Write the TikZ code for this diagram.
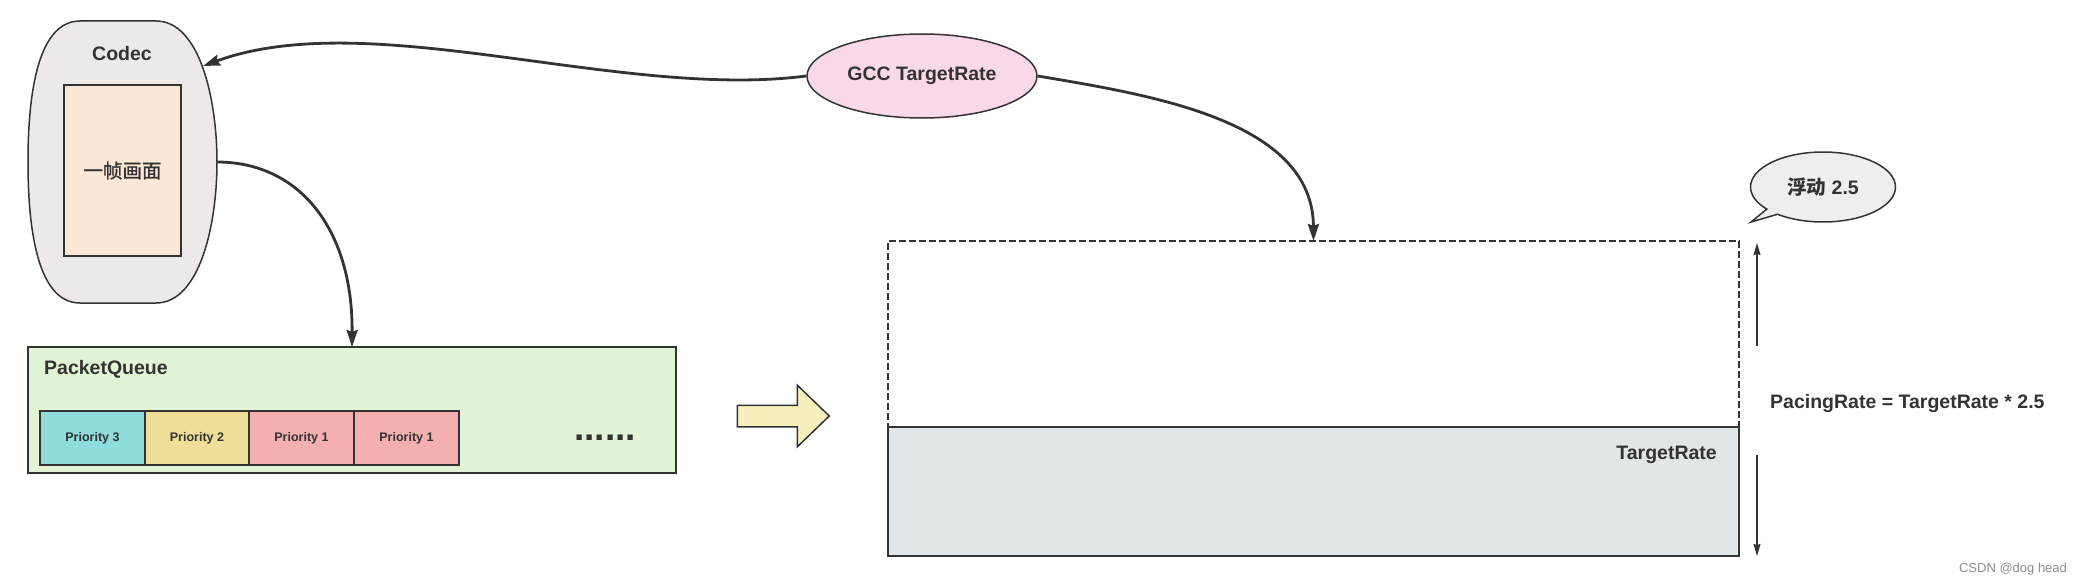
\documentclass[tikz,border=0pt]{standalone}
\usepackage{fontspec}
\setmainfont{Liberation Sans}
\newfontfamily\cjk{Noto Sans CJK SC}
\newfontfamily\cjkmid{Noto Sans CJK SC}[FakeBold=1.2]
\usetikzlibrary{positioning,shapes.geometric,shapes.arrows,shapes.callouts,arrows.meta}

\definecolor{ink}{HTML}{333333}
\definecolor{codecfill}{HTML}{EDE9E8}
\definecolor{framefill}{HTML}{FCE8D6}
\definecolor{queuefill}{HTML}{E1F4D5}
\definecolor{prio3}{HTML}{8EDCDC}
\definecolor{prio2}{HTML}{EFDE98}
\definecolor{prio1}{HTML}{F4B0B0}
\definecolor{gccfill}{HTML}{F9D8EA}
\definecolor{shiftfill}{HTML}{F7EFBD}
\definecolor{targetfill}{HTML}{E1E6E9}
\definecolor{bubblefill}{HTML}{EEEEEE}

\begin{document}
\begin{tikzpicture}[x=1pt, y=-1pt,
    box/.style={draw=ink, line width=1.5pt, inner sep=0pt, outer sep=0pt},
    lbl/.style={font=\fontsize{19.5}{23}\selectfont\bfseries, text=ink, inner sep=0pt},
    cell/.style={box, minimum width=105pt, minimum height=54pt, font=\fontsize{12.5}{15}\selectfont\bfseries, text=ink},
    flow/.style={draw=ink, line width=2.8pt, -{Stealth[length=17pt,width=11pt,inset=2pt]}},
    measure/.style={draw=ink, line width=1.2pt, -{Stealth[length=12pt,width=7pt,inset=1pt]}}]

    \useasboundingbox (0,0) rectangle (2081,586);

    % Codec with one frame inside
    \draw[ink, line width=1.5pt, fill=codecfill] (80,21) -- (156,21)
        .. controls (200,21) and (217,100) .. (217,162)
        .. controls (217,224) and (200,303) .. (156,303) -- (80,303)
        .. controls (36,303) and (28,224) .. (28,162)
        .. controls (28,100) and (36,21) .. (80,21) -- cycle;
    \node[lbl, anchor=base] (codec) at (122,61) {Codec};
    \node[box, fill=framefill, minimum width=117pt, minimum height=171pt, lbl] (frame) at (122.5,170.5) {\cjkmid\mdseries 一帧画面};
    \coordinate (codec in) at (203,66);
    \coordinate (codec out) at (217,162);

    % Packet queue
    \node[box, fill=queuefill, minimum width=648pt, minimum height=126pt] (queue) at (352,410) {};
    \node[lbl, anchor=base west] (queue title) at (44,374) {PacketQueue};
    \node[cell, fill=prio3] (p3) at (92.5,438) {Priority 3};
    \node[cell, fill=prio2, right=0pt of p3, minimum width=104pt] (p2) {Priority 2};
    \node[cell, fill=prio1, right=0pt of p2] (p1a) {Priority 1};
    \node[cell, fill=prio1, right=0pt of p1a] (p1b) {Priority 1};
    \node[lbl, font=\fontsize{37}{40}\selectfont\bfseries, anchor=base] (dots) at (605,440) {......};

    % GCC estimate
    \node[draw=ink, line width=1.5pt, fill=gccfill, ellipse, minimum width=230pt, minimum height=84pt, lbl] (gcc) at (922,76) {GCC TargetRate};

    % block arrow
    \node[single arrow, draw=ink, line width=1.5pt, fill=shiftfill, inner sep=10pt, single arrow head extend=20pt,
          single arrow tip angle=88, single arrow head indent=0pt, minimum height=92pt, minimum width=0pt,
          anchor=tail] (shift) at (736.5,416) {};

    % pacing rate and target rate
    \node[box, dash pattern=on 7pt off 3pt, minimum width=851pt, minimum height=186pt] (pacing) at (1313.5,334) {};
    \node[box, fill=targetfill, line width=1.8pt, minimum width=851pt, minimum height=129pt] (target) at (1313.5,491.5) {};
    \node[lbl, anchor=base east] (target title) at (1717,459) {TargetRate};

    \coordinate (up from) at (1757,346);
    \coordinate (up to) at (1757,243);
    \coordinate (down from) at (1757,455);
    \coordinate (down to) at (1757,556);
    \draw[measure] (up from) -- (up to);
    \draw[measure] (down from) -- (down to);
    \node[lbl, anchor=base west] (formula) at (1770,408) {PacingRate = TargetRate * 2.5};

    \node[ellipse callout, draw=ink, line width=1.5pt, fill=bubblefill, minimum width=145pt, minimum height=70pt,
          callout absolute pointer={(1751,222)}, callout pointer arc=12, lbl] (float) at (1823,187) {{\cjk 浮动} 2.5};

    \node[font=\fontsize{13}{15}\selectfont, text=black!45, inner sep=0pt] (mark) at (2013,569) {CSDN @dog head};

    % connectors
    \draw[flow] (gcc.west) .. controls (620,100) and (370,5) .. (codec in);
    \draw[flow] (codec out) .. controls (300,162) and (353,230) .. (queue.north);
    \draw[flow] (gcc.east) .. controls (1150,95) and (1313,120) .. (pacing.north);
\end{tikzpicture}
\end{document}
